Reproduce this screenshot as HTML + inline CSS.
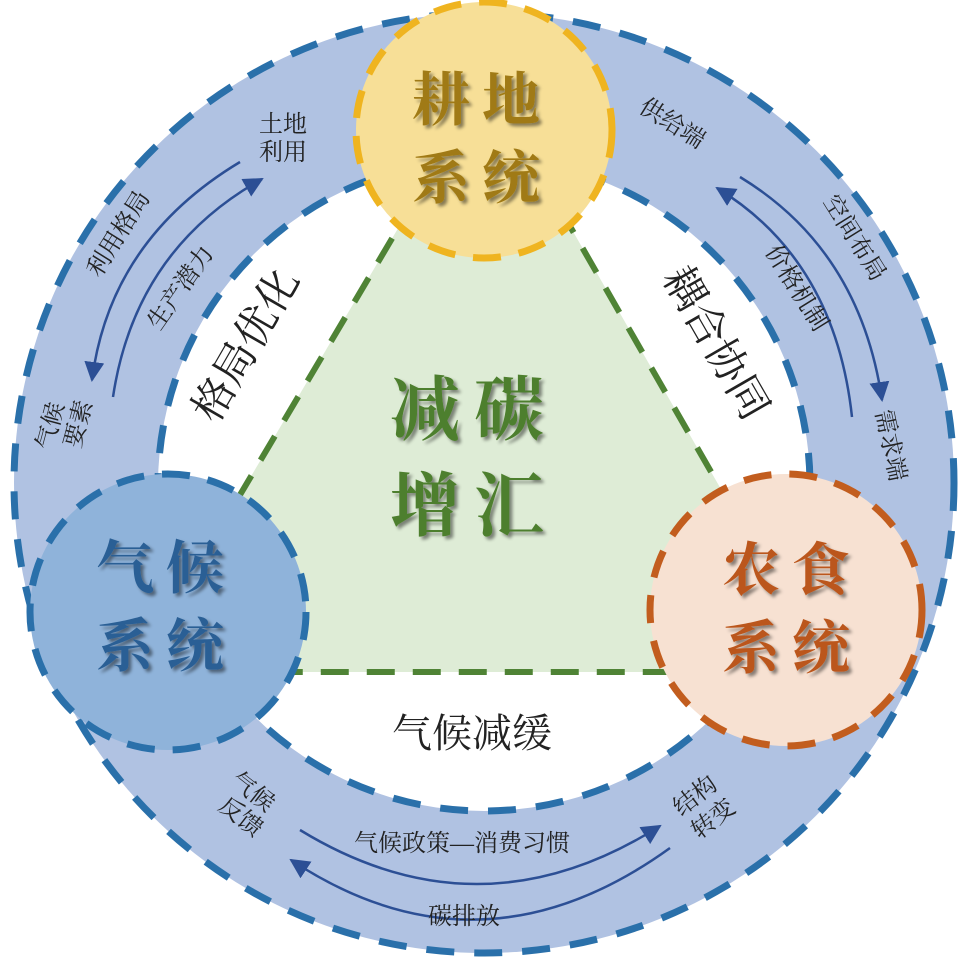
<!DOCTYPE html>
<html><head><meta charset="utf-8"><style>
html,body{margin:0;padding:0;background:#fff;}
svg{display:block;}
text{font-family:"Liberation Serif","Noto Serif CJK SC",serif;}
</style></head><body>
<svg width="978" height="966" viewBox="0 0 978 966" xmlns="http://www.w3.org/2000/svg">
<defs>
<marker id="a" viewBox="0 0 10 10" refX="9" refY="5" markerWidth="20" markerHeight="20" orient="auto" markerUnits="userSpaceOnUse">
<path d="M0,0 L10,5 L0,10 z" fill="#2c4f95"/>
</marker>
<filter id="sh" x="-20%" y="-20%" width="140%" height="140%">
<feDropShadow dx="3" dy="3" stdDeviation="1.5" flood-color="#000" flood-opacity="0.45"/>
</filter>
</defs>
<circle cx="484" cy="483" r="470" fill="#b0c2e2" stroke="#2a70aa" stroke-width="7" stroke-dasharray="28 20"/>
<circle cx="484" cy="485" r="326" fill="#fff" stroke="#2a70aa" stroke-width="7" stroke-dasharray="28 20"/>
<polygon points="486,80 135,672 826,672" fill="#deecd6" stroke="#4f8335" stroke-width="6" stroke-dasharray="28 18"/>
<circle cx="484" cy="130" r="128" fill="#f7df97" stroke="#efb420" stroke-width="7" stroke-dasharray="28 18"/>
<circle cx="168" cy="612" r="138" fill="#8fb3da" stroke="#2a70aa" stroke-width="7" stroke-dasharray="28 18"/>
<circle cx="786" cy="610" r="136" fill="#f7e1d2" stroke="#c25d1e" stroke-width="7" stroke-dasharray="28 18"/>
<g fill="none" stroke="#2c4f95" stroke-width="2.5">
<path d="M240,162 Q110,240 92,380" marker-end="url(#a)"/>
<path d="M113,397 Q135,250 262,179" marker-end="url(#a)"/>
<path d="M740,177 Q860,250 882,400" marker-end="url(#a)"/>
<path d="M852,417 Q835,260 717,188" marker-end="url(#a)"/>
<path d="M300,830 Q480,940 660,826" marker-end="url(#a)"/>
<path d="M670,848 Q480,985 291,860" marker-end="url(#a)"/>
</g>
<g font-weight="bold" font-size="58" text-anchor="middle" filter="url(#sh)">
<text x="482" y="120" fill="#a07a12" letter-spacing="12">耕地</text>
<text x="482" y="198" fill="#a07a12" letter-spacing="12">系统</text>
<text x="166" y="588" fill="#2a5f95" letter-spacing="12">气候</text>
<text x="166" y="666" fill="#2a5f95" letter-spacing="12">系统</text>
<text x="792" y="590" fill="#bb561b" letter-spacing="12">农食</text>
<text x="792" y="668" fill="#bb561b" letter-spacing="12">系统</text>
<text x="474" y="434" fill="#4e7f2e" font-size="70" letter-spacing="14">减碳</text>
<text x="474" y="530" fill="#4e7f2e" font-size="70" letter-spacing="14">增汇</text>
</g>
<g font-size="42" fill="#222" text-anchor="middle">
<text transform="translate(258,352) rotate(-60)">格局优化</text>
<text transform="translate(704,350) rotate(60)">耦合协同</text>
<text x="472" y="747" font-size="40">气候减缓</text>
</g>
<g font-size="24" fill="#222" text-anchor="middle">
<text x="283" y="132">土地</text>
<text x="283" y="160">利用</text>
<text transform="translate(125,238) rotate(-58)">利用格局</text>
<text transform="translate(187,292) rotate(-55)">生产潜力</text>
<text transform="translate(58,428) rotate(-75)">气候</text>
<text transform="translate(86,426) rotate(-75)">要素</text>
<text transform="translate(668,130) rotate(32)">供给端</text>
<text transform="translate(848,242) rotate(58)">空间布局</text>
<text transform="translate(790,292) rotate(58)">价格机制</text>
<text transform="translate(883,447) rotate(78)">需求端</text>
<text transform="translate(248,798) rotate(38)">气候</text>
<text transform="translate(236,823) rotate(38)">反馈</text>
<text transform="translate(700,802) rotate(-38)">结构</text>
<text transform="translate(718,825) rotate(-38)">转变</text>
<text x="462" y="851">气候政策—消费习惯</text>
<text x="464" y="924">碳排放</text>
</g>
</svg>
</body></html>
